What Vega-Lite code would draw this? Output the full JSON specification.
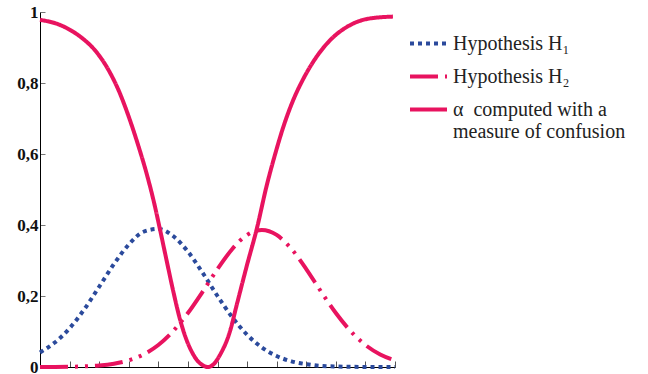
{
  "$schema": "https://vega.github.io/schema/vega-lite/v6.json",
  "autosize": {"type": "none"},
  "width": 355,
  "height": 355,
  "padding": {"left": 40, "top": 12, "right": 253, "bottom": 7},
  "background": "white",
  "config": {
    "font": "Liberation Serif",
    "view": {"stroke": null},
    "legend": {"labelFont": "Liberation Serif", "labelFontSize": 20, "labelColor": "#222", "labelLimit": 300, "labelLineHeight": 23}
  },
  "data": {"values": [
    {"s":"Hypothesis H₁","x":0,"y":0.041},{"s":"Hypothesis H₁","x":0.5,"y":0.069},{"s":"Hypothesis H₁","x":1,"y":0.109},{"s":"Hypothesis H₁","x":1.5,"y":0.163},{"s":"Hypothesis H₁","x":2,"y":0.226},{"s":"Hypothesis H₁","x":2.5,"y":0.29},{"s":"Hypothesis H₁","x":3,"y":0.345},{"s":"Hypothesis H₁","x":3.5,"y":0.381},{"s":"Hypothesis H₁","x":4,"y":0.389},{"s":"Hypothesis H₁","x":4.5,"y":0.369},{"s":"Hypothesis H₁","x":5,"y":0.325},{"s":"Hypothesis H₁","x":5.5,"y":0.265},{"s":"Hypothesis H₁","x":6,"y":0.2},{"s":"Hypothesis H₁","x":6.5,"y":0.14},{"s":"Hypothesis H₁","x":7,"y":0.091},{"s":"Hypothesis H₁","x":7.5,"y":0.055},{"s":"Hypothesis H₁","x":8,"y":0.031},{"s":"Hypothesis H₁","x":8.5,"y":0.016},{"s":"Hypothesis H₁","x":9,"y":0.008},{"s":"Hypothesis H₁","x":9.5,"y":0.003},{"s":"Hypothesis H₁","x":10,"y":0.0014},{"s":"Hypothesis H₁","x":10.5,"y":0.0005},{"s":"Hypothesis H₁","x":11,"y":0.0002},{"s":"Hypothesis H₁","x":11.5,"y":0.0001},{"s":"Hypothesis H₁","x":12,"y":0},
    {"s":"Hypothesis H₂","x":0,"y":0.0001},{"s":"Hypothesis H₂","x":0.5,"y":0.0003},{"s":"Hypothesis H₂","x":1,"y":0.0007},{"s":"Hypothesis H₂","x":1.5,"y":0.0018},{"s":"Hypothesis H₂","x":2,"y":0.0042},{"s":"Hypothesis H₂","x":2.5,"y":0.0093},{"s":"Hypothesis H₂","x":3,"y":0.0188},{"s":"Hypothesis H₂","x":3.5,"y":0.0354},{"s":"Hypothesis H₂","x":4,"y":0.062},{"s":"Hypothesis H₂","x":4.5,"y":0.101},{"s":"Hypothesis H₂","x":5,"y":0.152},{"s":"Hypothesis H₂","x":5.5,"y":0.2125},{"s":"Hypothesis H₂","x":6,"y":0.276},{"s":"Hypothesis H₂","x":6.5,"y":0.3325},{"s":"Hypothesis H₂","x":7,"y":0.372},{"s":"Hypothesis H₂","x":7.5,"y":0.386},{"s":"Hypothesis H₂","x":8,"y":0.372},{"s":"Hypothesis H₂","x":8.5,"y":0.3325},{"s":"Hypothesis H₂","x":9,"y":0.276},{"s":"Hypothesis H₂","x":9.5,"y":0.2125},{"s":"Hypothesis H₂","x":10,"y":0.152},{"s":"Hypothesis H₂","x":10.5,"y":0.101},{"s":"Hypothesis H₂","x":11,"y":0.062},{"s":"Hypothesis H₂","x":11.5,"y":0.0354},{"s":"Hypothesis H₂","x":12,"y":0.0188},
    {"s":"α computed with a measure of confusion","x":0,"y":0.978},{"s":"α computed with a measure of confusion","x":0.72,"y":0.962},{"s":"α computed with a measure of confusion","x":1.4,"y":0.928},{"s":"α computed with a measure of confusion","x":1.85,"y":0.893},{"s":"α computed with a measure of confusion","x":2.36,"y":0.83},{"s":"α computed with a measure of confusion","x":2.69,"y":0.773},{"s":"α computed with a measure of confusion","x":2.97,"y":0.712},{"s":"α computed with a measure of confusion","x":3.31,"y":0.627},{"s":"α computed with a measure of confusion","x":3.62,"y":0.54},{"s":"α computed with a measure of confusion","x":3.85,"y":0.465},{"s":"α computed with a measure of confusion","x":4.06,"y":0.386},{"s":"α computed with a measure of confusion","x":4.28,"y":0.3},{"s":"α computed with a measure of confusion","x":4.5,"y":0.215},{"s":"α computed with a measure of confusion","x":4.73,"y":0.135},{"s":"α computed with a measure of confusion","x":4.96,"y":0.075},{"s":"α computed with a measure of confusion","x":5.15,"y":0.04},{"s":"α computed with a measure of confusion","x":5.3,"y":0.02},{"s":"α computed with a measure of confusion","x":5.5,"y":0.005},{"s":"α computed with a measure of confusion","x":5.68,"y":0.0},{"s":"α computed with a measure of confusion","x":5.87,"y":0.008},{"s":"α computed with a measure of confusion","x":6.09,"y":0.035},{"s":"α computed with a measure of confusion","x":6.42,"y":0.1},{"s":"α computed with a measure of confusion","x":6.65,"y":0.175},{"s":"α computed with a measure of confusion","x":6.99,"y":0.285},{"s":"α computed with a measure of confusion","x":7.33,"y":0.39},{"s":"α computed with a measure of confusion","x":7.66,"y":0.51},{"s":"α computed with a measure of confusion","x":7.95,"y":0.6},{"s":"α computed with a measure of confusion","x":8.22,"y":0.675},{"s":"α computed with a measure of confusion","x":8.55,"y":0.75},{"s":"α computed with a measure of confusion","x":8.89,"y":0.81},{"s":"α computed with a measure of confusion","x":9.35,"y":0.874},{"s":"α computed with a measure of confusion","x":9.8,"y":0.92},{"s":"α computed with a measure of confusion","x":10.48,"y":0.963},{"s":"α computed with a measure of confusion","x":11.16,"y":0.982},{"s":"α computed with a measure of confusion","x":11.93,"y":0.987}
  ]},
  "mark": {"type": "line", "interpolate": "monotone", "strokeCap": "butt"},
  "encoding": {
    "x": {"field": "x", "type": "quantitative", "scale": {"domain": [0, 12], "nice": false},
      "axis": {"title": null, "labels": false, "values": [1,2,3,4,5,6,7,8,9,10,11,12], "tickSize": -6, "tickColor": "#555", "domainColor": "#000", "grid": false}},
    "y": {"field": "y", "type": "quantitative", "scale": {"domain": [0, 1], "nice": false},
      "axis": {"title": null, "values": [0,0.2,0.4,0.6,0.8,1], "tickSize": -5, "tickColor": "#777", "domainColor": "#000", "grid": false,
        "labelFont": "Liberation Serif", "labelFontWeight": "bold", "labelFontSize": 17, "labelColor": "#111", "labelPadding": 7,
        "labelExpr": "datum.value == 0 ? '0' : datum.value == 1 ? '1' : replace(format(datum.value, '.1f'), '.', ',')"}},
    "color": {"field": "s", "type": "nominal",
      "scale": {"domain": ["Hypothesis H₁", "Hypothesis H₂", "α computed with a measure of confusion"], "range": ["#2b4a9c", "#e8135f", "#e8135f"]},
      "legend": {"title": null, "orient": "none", "legendX": 368, "legendY": 11, "padding": 0,
        "symbolType": "stroke", "symbolSize": 1369, "symbolStrokeWidth": 4, "labelOffset": 4, "rowPadding": 2,
        "labelFont": "Liberation Serif", "labelFontSize": 20, "labelColor": "#222", "labelLimit": 300, "labelLineHeight": 23,
        "labelExpr": "indexof(datum.label, 'α') == 0 ? ['α\u00a0\u00a0computed with a', 'measure of confusion'] : datum.label"}},
    "strokeDash": {"field": "s", "type": "nominal",
      "scale": {"domain": ["Hypothesis H₁", "Hypothesis H₂", "α computed with a measure of confusion"], "range": [[4, 4], [28, 7, 3, 7, 3, 7], [1, 0]]},
      "legend": {"title": null, "orient": "none", "legendX": 368, "legendY": 11, "padding": 0,
        "symbolType": "stroke", "symbolSize": 1369, "symbolStrokeWidth": 4, "labelOffset": 4, "rowPadding": 2,
        "labelFont": "Liberation Serif", "labelFontSize": 20, "labelColor": "#222", "labelLimit": 300, "labelLineHeight": 23,
        "labelExpr": "indexof(datum.label, 'α') == 0 ? ['α\u00a0\u00a0computed with a', 'measure of confusion'] : datum.label"}},
    "strokeWidth": {"field": "s", "type": "nominal",
      "scale": {"domain": ["Hypothesis H₁", "Hypothesis H₂", "α computed with a measure of confusion"], "range": [4, 4, 4.5]},
      "legend": null}
  }
}
